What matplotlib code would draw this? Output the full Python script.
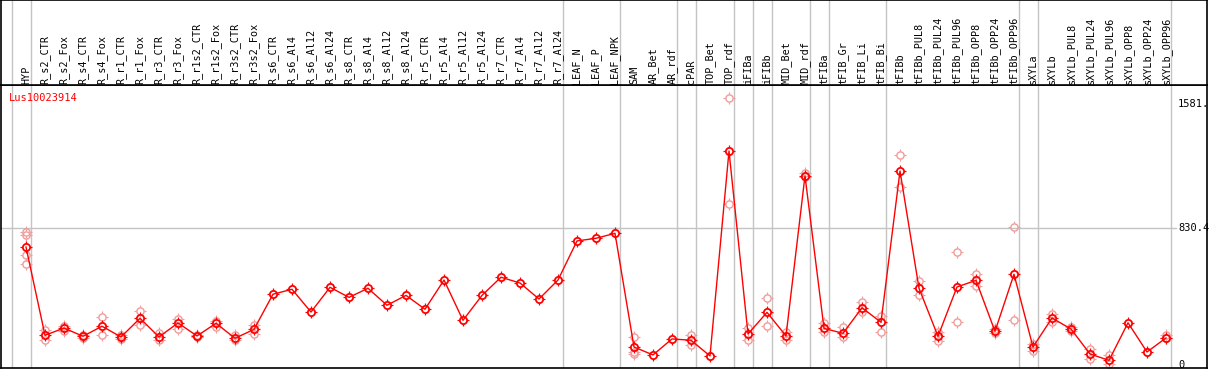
import matplotlib.pyplot as plt
import numpy as np
from matplotlib.path import Path

# --- Chart data ---
samples = [
    "HYP", "R_s2_CTR", "R_s2_Fox", "R_s4_CTR", "R_s4_Fox", "R_r1_CTR", "R_r1_Fox",
    "R_r3_CTR", "R_r3_Fox", "R_r1s2_CTR", "R_r1s2_Fox", "R_r3s2_CTR", "R_r3s2_Fox",
    "R_s6_CTR", "R_s6_Al4", "R_s6_Al12", "R_s6_Al24", "R_s8_CTR", "R_s8_Al4",
    "R_s8_Al12", "R_s8_Al24", "R_r5_CTR", "R_r5_Al4", "R_r5_Al12", "R_r5_Al24",
    "R_r7_CTR", "R_r7_Al4", "R_r7_Al12", "R_r7_Al24", "LEAF_N", "LEAF_P", "LEAF_NPK",
    "SAM", "AR_Bet", "AR_rdf", "cPAR", "TOP_Bet", "TOP_rdf", "iFIBa", "iFIBb",
    "MID_Bet", "MID_rdf", "tFIBa", "tFIB_Gr", "tFIB_Li", "tFIB_Bi", "tFIBb",
    "tFIBb_PUL8", "tFIBb_PUL24", "tFIBb_PUL96", "tFIBb_OPP8", "tFIBb_OPP24",
    "tFIBb_OPP96", "sXYLa", "sXYLb", "sXYLb_PUL8", "sXYLb_PUL24", "sXYLb_PUL96",
    "sXYLb_OPP8", "sXYLb_OPP24", "sXYLb_OPP96",
]

# first sample index of each group (gray separators)
group_starts = [0, 1, 29, 32, 35, 36, 38, 39, 40, 42, 43, 46, 53, 54, 61]

mean_expr = [
    715, 180, 224, 174, 235, 170, 283, 170, 255, 176, 253, 162, 216,
    429, 459, 321, 471, 410, 465, 362, 422, 338, 515, 271, 422,
    532, 497, 400, 515, 752, 768, 798,
    109, 61, 158, 150, 55, 1297, 188, 319, 176, 1147,
    222, 192, 347, 259, 1176, 465, 174, 473, 513, 204, 550,
    109, 285, 218, 67, 28, 256, 79, 164,
]

nan = np.nan
rep_hi = [
    790, 212, 239, 184, 291, 180, 327, 194, 281, 184, 267, 184, 242,
    nan, nan, nan, nan, nan, nan, nan, nan, nan, nan, nan, nan,
    nan, nan, nan, nan, nan, nan, nan,
    170, nan, nan, 182, nan, 1616, 226, 404, 202, 1166,
    256, 229, 382, 297, 1271, 507, 198, 685, 552, 216, 836,
    127, 307, 232, 95, 59, nan, nan, 180,
]
rep_lo = [
    612, 150, 206, 164, 180, 159, 244, 150, 220, 168, 232, 150, 188,
    nan, nan, nan, nan, nan, nan, nan, nan, nan, nan, nan, nan,
    nan, nan, nan, nan, nan, nan, nan,
    81, nan, nan, 121, nan, 974, 153, 235, 150, 1138,
    202, 172, 323, 198, 1081, 422, 147, 259, 477, 192, 271,
    87, 262, 208, 35, 4, nan, nan, 165,
]
rep_mid = [665] + [nan] * 31 + [68] + [nan] * 28
rep_top = [806] + [nan] * 60

gene_id = "Lus10023914"
ytick_vals = [0, 830.4, 1581]
ytick_text = ["0", "830.4", "1581."]

# --- Layout (pixel based) ---
W, H = 1209, 370
x0_px, dx_px = 26, 19          # x pixel of first sample, spacing
y0_px, yscale = 365, 0.16498   # pixel of value 0, pixels per unit
top_px, bot_px, left_px, right_px = 85, 368, 1, 1207

def px2i(px):
    return (px - x0_px) / dx_px

def py2v(py):
    return (y0_px - py) / yscale

# four short ticks sticking out of the circle
r0, r1 = 0.6, 1.0
tick_marker = Path(
    [(0, r0), (0, r1), (0, -r0), (0, -r1), (r0, 0), (r1, 0), (-r0, 0), (-r1, 0)],
    [Path.MOVETO, Path.LINETO] * 4,
)

fig = plt.figure(figsize=(W / 100, H / 100), dpi=100)
ax = fig.add_axes([left_px / W, (H - bot_px) / H,
                   (right_px - left_px) / W, (bot_px - top_px) / H])
hx = fig.add_axes([left_px / W, (H - top_px) / H,
                   (right_px - left_px) / W, (top_px - 0) / H], sharex=ax)

xi = np.arange(len(samples))
red = "#ff0000"
pink = "#f09a9a"
gray = "#c4c4c4"
mono = "DejaVu Sans Mono"

ax.set_xlim(px2i(left_px), px2i(right_px))
ax.set_ylim(py2v(bot_px), py2v(top_px))
hx.set_ylim(top_px, 0)

for a in (ax, hx):
    a.set_xticks([])
    a.set_yticks([])
    for s in a.spines.values():
        s.set_color("black")
        s.set_linewidth(1.2)
    for g in group_starts:
        a.axvline(g - 0.75, color=gray, lw=1, zorder=0)

# gridline at the middle tick
ax.plot([px2i(left_px), px2i(1176)], [ytick_vals[1]] * 2, color=gray, lw=1, zorder=0)

# replicates
for rep in (rep_hi, rep_lo, rep_mid, rep_top):
    ax.plot(xi, rep, ls="none", marker=tick_marker, ms=8.5, mew=0.8,
            color=pink, zorder=2)
    ax.plot(xi, rep, ls="none", marker="o", ms=5.2, mew=1, mfc="none",
            mec=pink, zorder=2)

# mean line
ax.plot(xi, mean_expr, color=red, lw=1, zorder=3)
ax.plot(xi, mean_expr, ls="none", marker=tick_marker, ms=8.5, mew=0.9,
        color=red, zorder=4)
ax.plot(xi, mean_expr, ls="none", marker="o", ms=5.2, mew=1.3, mfc="none",
        mec=red, zorder=5)

# y labels on right
for v, t in zip(ytick_vals, ytick_text):
    ax.text(px2i(1178), v, t, fontsize=7.5, family=mono, va="center", ha="left")

ax.text(px2i(9), py2v(98), gene_id, color=red, fontsize=7.5, family=mono,
        va="center", ha="left")

# header sample labels
for i, name in enumerate(samples):
    hx.text(i, 83.5, name, rotation=90, fontsize=7.3, family=mono,
            ha="center", va="bottom")

fig.savefig("out.png", dpi=100)
